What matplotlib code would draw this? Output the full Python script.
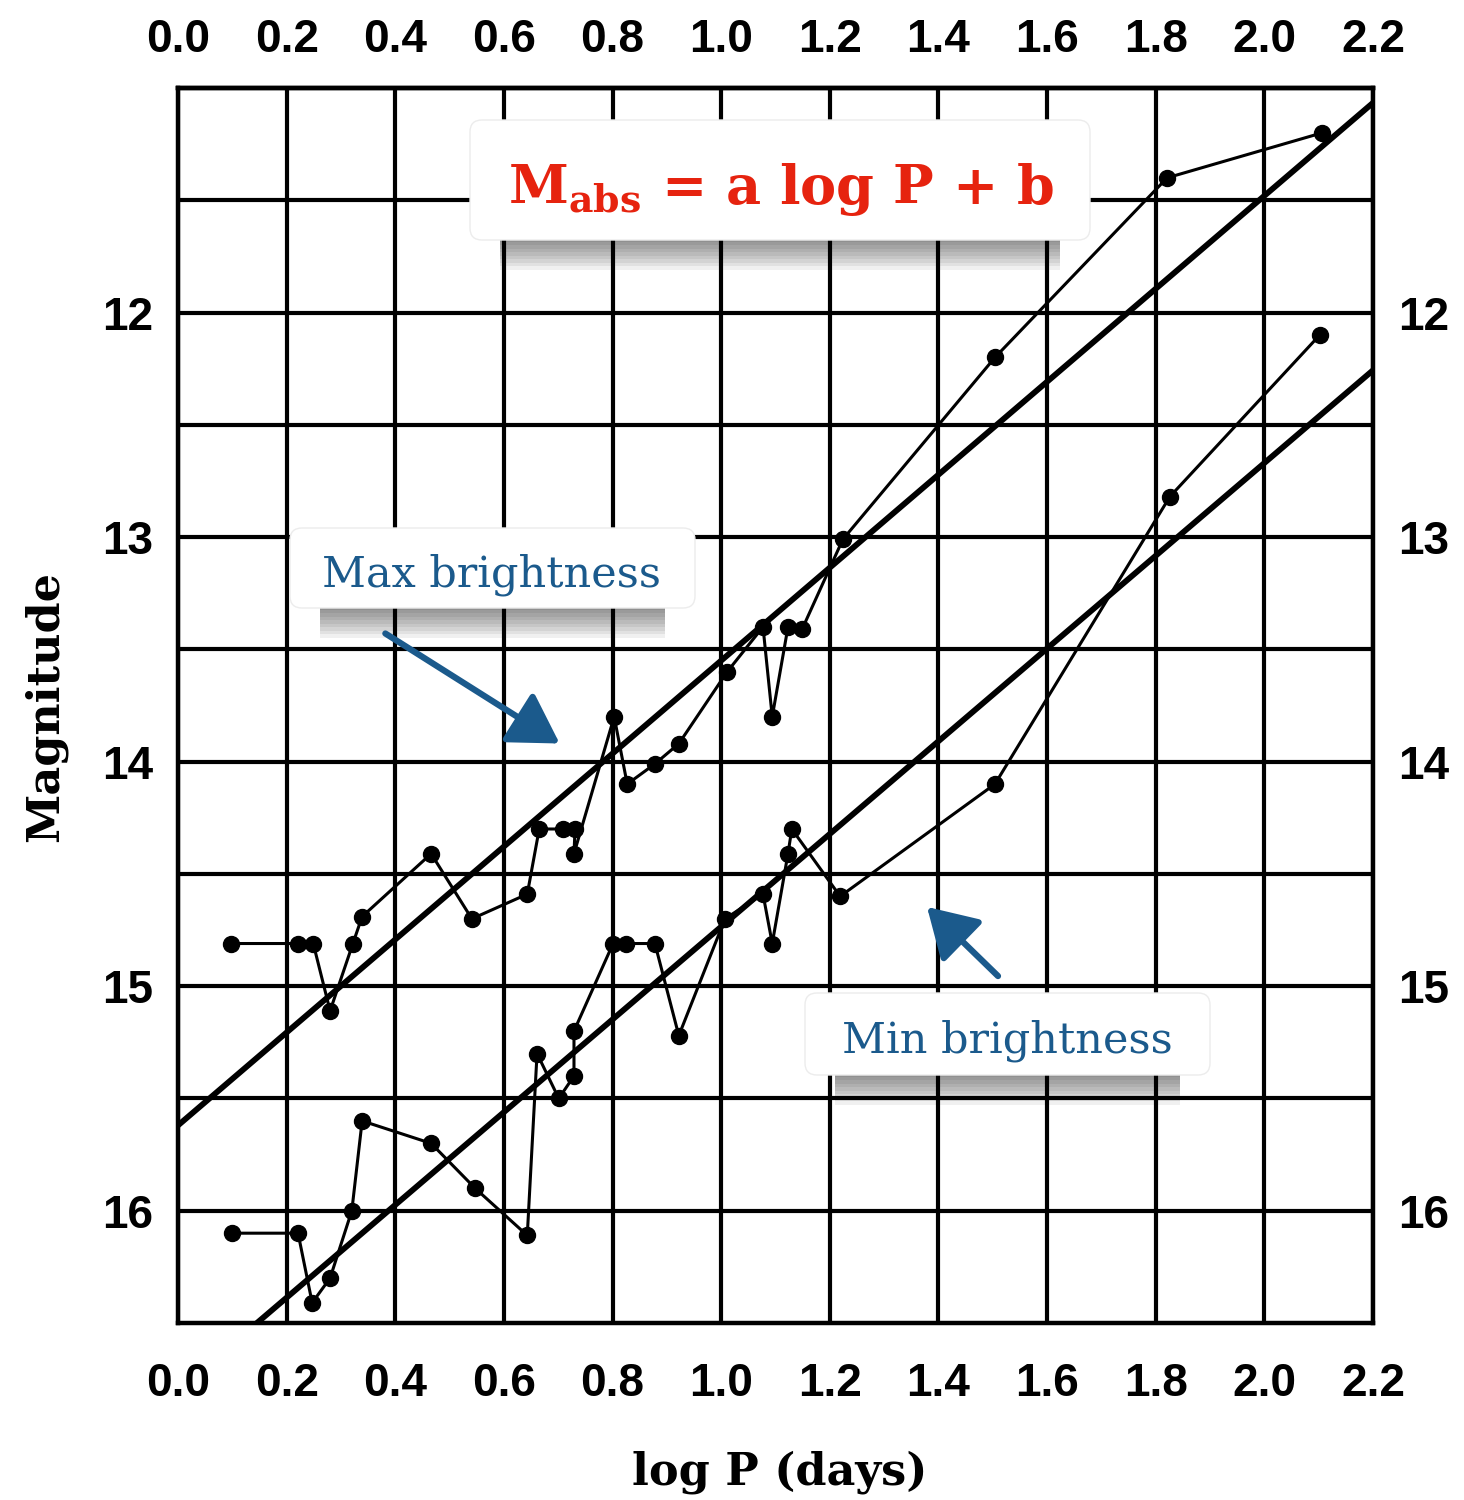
import numpy as np
import matplotlib.pyplot as plt
from matplotlib.patches import FancyBboxPatch, FancyArrowPatch, Rectangle

# ---- data ----
log_p_max = [0.098, 0.221, 0.249, 0.280, 0.322, 0.339, 0.466, 0.541, 0.643,
             0.665, 0.709, 0.731, 0.729, 0.803, 0.827, 0.878, 0.922, 1.011,
             1.077, 1.094, 1.123, 1.149, 1.224, 1.504, 1.821, 2.106]
mag_max = [14.81, 14.81, 14.81, 15.11, 14.81, 14.69, 14.41, 14.70, 14.59,
           14.30, 14.30, 14.30, 14.41, 13.80, 14.10, 14.01, 13.92, 13.60,
           13.40, 13.80, 13.40, 13.41, 13.01, 12.20, 11.40, 11.20]

log_p_min = [0.099, 0.221, 0.247, 0.280, 0.320, 0.339, 0.466, 0.547, 0.643,
             0.661, 0.701, 0.729, 0.729, 0.801, 0.825, 0.878, 0.922, 1.007,
             1.077, 1.094, 1.123, 1.130, 1.219, 1.504, 1.826, 2.102]
mag_min = [16.10, 16.10, 16.41, 16.30, 16.00, 15.60, 15.70, 15.90, 16.11,
           15.30, 15.50, 15.40, 15.20, 14.81, 14.81, 14.81, 15.22, 14.70,
           14.59, 14.81, 14.41, 14.30, 14.60, 14.10, 12.82, 12.10]

fit_slope = [-2.07, -2.065]
fit_intercept = [15.62, 16.80]

x_ticks = [0.0, 0.2, 0.4, 0.6, 0.8, 1.0, 1.2, 1.4, 1.6, 1.8, 2.0, 2.2]
y_ticks = [12, 13, 14, 15, 16]
y_grid_minor = [11.5, 12.5, 13.5, 14.5, 15.5]

BLUE = '#1b5a8c'
RED = '#e6230f'
TICK_FONT = ['Liberation Sans', 'DejaVu Sans']

plt.rcParams['mathtext.fontset'] = 'dejavuserif'
plt.rcParams['mathtext.default'] = 'bf'

W, H = 1464, 1500
fig = plt.figure(figsize=(W / 100, H / 100), dpi=100)
ax = fig.add_axes([178 / W, 1 - 1323 / H, (1373 - 178) / W, (1323 - 88) / H])
ax.set_xlim(0, 2.2)
ax.set_ylim(16.5, 11.0)

x_labels = [f'{v:.1f}' for v in x_ticks]
ax.set_xticks(x_ticks)
ax.set_xticklabels(x_labels)
ax.set_yticks(y_ticks)
ax.set_yticks(y_grid_minor, minor=True)
ax.tick_params(which='both', length=0, right=True, labelright=True)
ax.tick_params(axis='x', labelsize=33, pad=28)
ax.tick_params(axis='y', labelsize=33, pad=18)

# top scale repeats the bottom one
top = ax.secondary_xaxis('top')
top.set_xticks(x_ticks)
top.set_xticklabels(x_labels)
top.tick_params(length=0, labelsize=33, pad=19)
top.spines['top'].set_linewidth(3.2)

for lab in (ax.get_xticklabels() + ax.get_yticklabels()
            + top.get_xticklabels()):
    lab.set_family(TICK_FONT)
    lab.set_fontweight('bold')

ax.grid(True, which='both', color='black', lw=3.0)
for sp in ax.spines.values():
    sp.set_linewidth(3.2)

# fitted relations
xs = np.array([0.0, 2.2])
for s, b in zip(fit_slope, fit_intercept):
    ax.plot(xs, b + s * xs, color='black', lw=4.2, solid_capstyle='butt')

# observed points
ax.plot(log_p_max, mag_max, '-o', color='black', lw=2.2, ms=11.5)
ax.plot(log_p_min, mag_min, '-o', color='black', lw=2.2, ms=11.5)

# axis titles
fig.text(45 / W, 1 - 706 / H, 'Magnitude', rotation=90, ha='center', va='center',
         family='DejaVu Serif', fontweight='bold', fontsize=32)
fig.text(780 / W, 1 - 1484 / H, 'log P (days)', ha='center', va='baseline',
         family='DejaVu Serif', fontweight='bold', fontsize=32)

# ---- overlay for the note boxes, in pixel coordinates ----
ov = fig.add_axes([0, 0, 1, 1], zorder=5)
ov.set_xlim(0, W)
ov.set_ylim(H, 0)
ov.axis('off')


def note_box(x0, y0, x1, y1):
    # soft shadow under the box
    for i in range(10):
        ov.add_patch(Rectangle((x0 + 30, y1 - 6), x1 - x0 - 60, 4 + 3.5 * i,
                               facecolor='black', edgecolor='none', alpha=0.06))
    ov.add_patch(FancyBboxPatch((x0, y0), x1 - x0, y1 - y0,
                                boxstyle='round,pad=0,rounding_size=12',
                                facecolor='white', edgecolor='#ececec', lw=1))


note_box(470, 120, 1090, 240)
note_box(290, 528, 695, 608)
note_box(805, 993, 1210, 1075)

ov.text(781, 204, r'M$_{abs}$ = a log P + b', ha='center', va='baseline',
        color=RED, family='DejaVu Serif', fontweight='bold', fontsize=39)
ov.text(492, 587, 'Max brightness', ha='center', va='baseline',
        color=BLUE, family='DejaVu Serif', fontsize=31)
ov.text(1007, 1053, 'Min brightness', ha='center', va='baseline',
        color=BLUE, family='DejaVu Serif', fontsize=31)

for start, end in [((383, 632), (562, 745)), ((1000, 978), (925, 905))]:
    ov.add_patch(FancyArrowPatch(start, end, color=BLUE, lw=4.5,
                                 arrowstyle='-|>,head_length=1.5,head_width=0.9',
                                 mutation_scale=20))

fig.savefig('out.png', dpi=100)
